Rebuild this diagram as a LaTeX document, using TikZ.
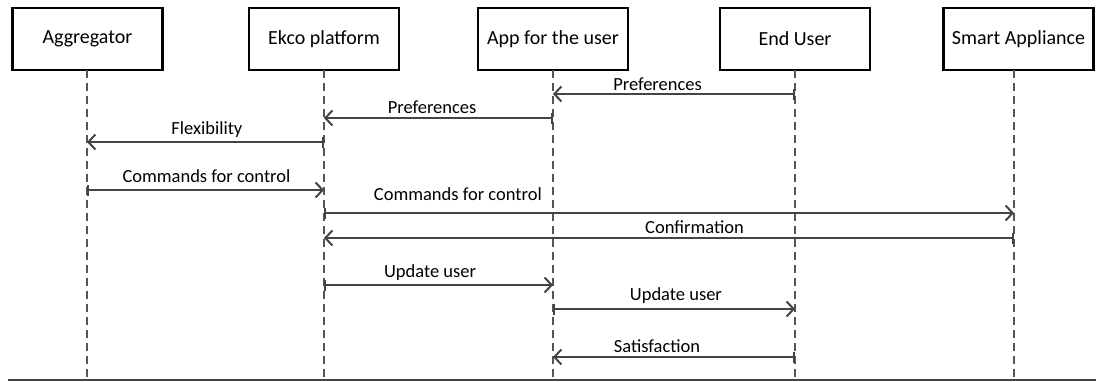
\documentclass[tikz,border=0pt]{standalone}
\usepackage{fontspec}
\setmainfont{Carlito}
\usetikzlibrary{arrows.meta}
\definecolor{linegray}{HTML}{444444}
\definecolor{dashgray}{HTML}{555555}
\begin{document}
\begin{tikzpicture}[x=1pt,y=-1pt,
  actor/.style={draw=black,line width=2.2pt,minimum width=150pt,minimum height=62pt,inner sep=0pt,font=\fontsize{20}{24}\selectfont},
  lifeline/.style={draw=dashgray,line width=1.6pt,dash pattern=on 8pt off 5pt},
  msg/.style={draw=linegray,line width=2pt,{Bar[width=11pt,line width=1.6pt]}-{Straight Barb[length=7pt,width=15pt,line width=2pt]}},
  lbl/.style={anchor=base,inner sep=0pt,font=\fontsize{18.5}{22}\selectfont,text=black}]
\useasboundingbox (0,0) rectangle (1096,381);
% actors
\node[actor] (agg) at (87.5,39) {Aggregator};
\node[actor] (ekco) at (324,39) {Ekco platform};
\node[actor] (app) at (553,39) {App for the user};
\node[actor] (eu) at (795,39) {End User};
\node[actor] (sa) at (1018.5,39) {Smart Appliance};
% bottom line ends
\coordinate (bl) at (8,380);
\coordinate (br) at (1096,380);
\coordinate (aggE) at (87,380);
\coordinate (ekcoE) at (324,380);
\coordinate (appE) at (553,380);
\coordinate (euE) at (795,380);
\coordinate (saE) at (1014,380);
\coordinate (aggS) at (87,70);
\coordinate (ekcoS) at (324,70);
\coordinate (appS) at (553,70);
\coordinate (euS) at (795,70);
\coordinate (saS) at (1014,70);
% lifelines
\draw[lifeline] (aggS) -- (aggE);
\draw[lifeline] (ekcoS) -- (ekcoE);
\draw[lifeline] (appS) -- (appE);
\draw[lifeline] (euS) -- (euE);
\draw[lifeline] (saS) -- (saE);
\draw[draw=linegray,line width=1.6pt] (bl) -- (br);
% messages
\draw[msg] (euS |- 0,94) -- (appS |- 0,94)
  node[lbl,pos=0.568,yshift=4pt] {Preferences};
\draw[msg] (appS |- 0,118) -- (ekcoS |- 0,118)
  node[lbl,pos=0.528,yshift=5pt] {Preferences};
\draw[msg] (ekcoS |- 0,142) -- (aggS |- 0,142)
  node[lbl,pos=0.494,yshift=8pt] {Flexibility};
\draw[msg] (aggS |- 0,190) -- (ekcoS |- 0,190)
  node[lbl,pos=0.504,yshift=8pt] {Commands for control};
\draw[msg] (ekcoS |- 0,213) -- (saS |- 0,213)
  node[lbl,pos=0.194,yshift=13pt] {Commands for control};
\draw[msg] (saS |- 0,238) -- (ekcoS |- 0,238)
  node[lbl,pos=0.463,yshift=5pt] {Confirmation};
\draw[msg] (ekcoS |- 0,285) -- (appS |- 0,285)
  node[lbl,pos=0.463,yshift=8pt] {Update user};
\draw[msg] (appS |- 0,309) -- (euS |- 0,309)
  node[lbl,pos=0.508,yshift=9pt] {Update user};
\draw[msg] (euS |- 0,357) -- (appS |- 0,357)
  node[lbl,pos=0.570,yshift=5pt] {Satisfaction};
\end{tikzpicture}
\end{document}
